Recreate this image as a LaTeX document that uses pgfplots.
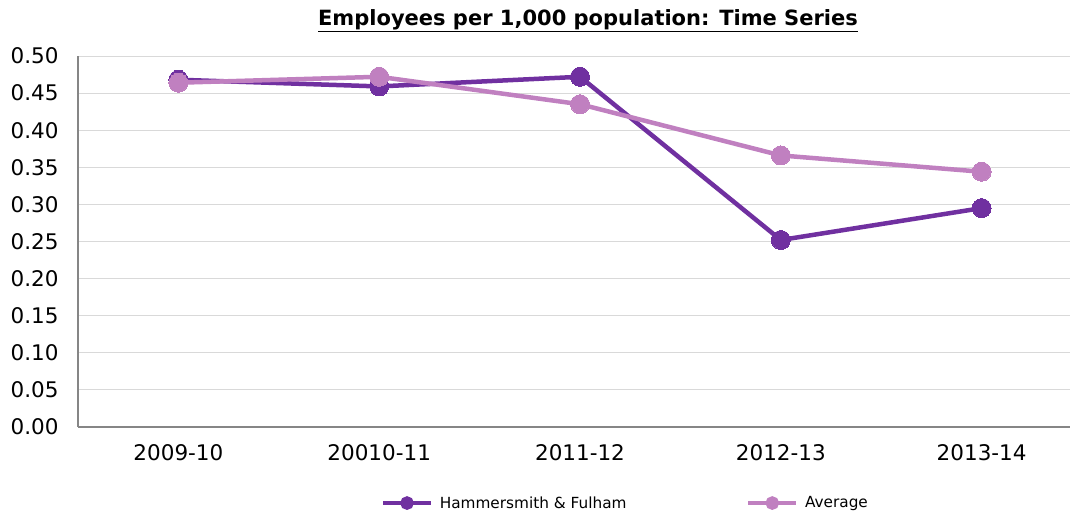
\documentclass[border=0pt]{standalone}
\usepackage{pgfplots}
\pgfplotsset{compat=1.18}
\usepackage{fontspec}
\setmainfont{DejaVu Sans}
\definecolor{hf}{HTML}{7030A0}
\definecolor{avg}{HTML}{C080C0}
\definecolor{gridc}{HTML}{D9D9D9}
\definecolor{axc}{HTML}{868686}
\begin{document}
\begin{tikzpicture}
\useasboundingbox (0,0) rectangle (1072pt,515pt);
\begin{axis}[
  at={(78pt,88pt)}, anchor=south west,
  scale only axis, width=992pt, height=371pt,
  xmin=-0.5, xmax=4.44, ymin=0, ymax=0.5,
  xtick={0,1,2,3,4},
  xticklabels={2009-10,20010-11,2011-12,2012-13,2013-14},
  ytick={0,0.05,...,0.5},
  y tick label style={/pgf/number format/fixed, /pgf/number format/fixed zerofill, /pgf/number format/precision=2},
  /pgf/number format/assume math mode=true,
  ticklabel style={font=\fontsize{21.5}{25}\selectfont},
  xticklabel style={yshift=-14pt},
  yticklabel style={xshift=-16pt},
  major tick length=0pt,
  ymajorgrids, grid style={gridc, line width=1pt},
  axis x line*=bottom, axis y line*=left,
  axis line style={axc, line width=1.5pt, -},
  clip=false,
  legend columns=2,
  legend style={at={(0.552,-0.205)}, anchor=center, draw=none, fill=none,
    font=\fontsize{15.3}{18}\selectfont,
    /tikz/every odd column/.append style={column sep=5pt},
    /tikz/every even column/.append style={column sep=118pt}},
  legend image code/.code={
    \draw[#1, mark=none, line width=3.5pt] (-24pt,0pt) -- (24pt,0pt);
    \fill[#1] (0pt,0pt) circle (4.5pt);
  },
]
\addplot[hf, line width=4.5pt, mark=*, mark size=9.5pt, mark options={draw=hf, fill=hf, line width=0pt}]
  coordinates {(0,0.468) (1,0.459) (2,0.472) (3,0.252) (4,0.295)};
\addlegendentry{Hammersmith \& Fulham}
\addplot[avg, line width=4.5pt, mark=*, mark size=9.5pt, mark options={draw=avg, fill=avg, line width=0pt}]
  coordinates {(0,0.464) (1,0.472) (2,0.435) (3,0.366) (4,0.344)};
\addlegendentry{Average}
\end{axis}
\node at (588pt,494pt) {\fontsize{21}{25}\selectfont\bfseries\underline{Employees per 1,000 population: Time Series}};
\end{tikzpicture}
\end{document}
